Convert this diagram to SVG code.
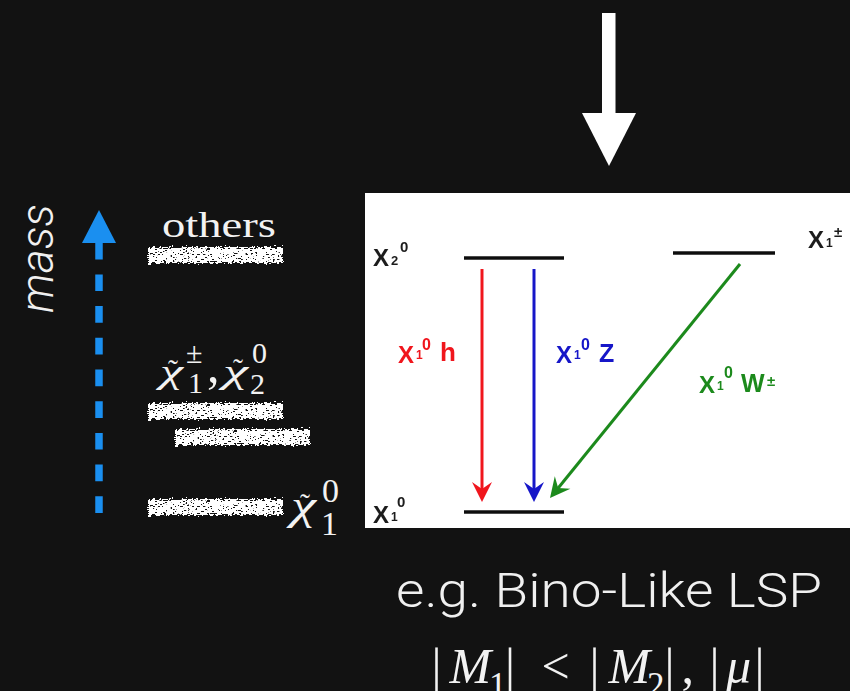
<svg xmlns="http://www.w3.org/2000/svg" width="850" height="691" viewBox="0 0 850 691">
<defs>
<style>
.serif{font-family:"Liberation Serif","Times New Roman",serif;fill:#f2f2f2}
.it{font-style:italic}
.light{font-family:Roboto,"Open Sans","Liberation Sans",sans-serif;font-weight:300;fill:#f0f0f0}
.lbl{font-family:"Liberation Sans",Arial,sans-serif;font-weight:bold}
.lvl{stroke:#111;stroke-width:3.5;fill:none}
</style>
<filter id="chalk" x="-10%" y="-60%" width="120%" height="220%">
<feTurbulence type="fractalNoise" baseFrequency="0.25 0.7" numOctaves="2" seed="3" result="n"/>
<feDisplacementMap in="SourceGraphic" in2="n" scale="8" xChannelSelector="R" yChannelSelector="G" result="d"/>
<feTurbulence type="fractalNoise" baseFrequency="0.4 1.2" numOctaves="1" seed="9" result="n2"/>
<feColorMatrix in="n2" type="matrix" values="0 0 0 0 0  0 0 0 0 0  0 0 0 0 0  -24 0 0 0 15.8" result="holes"/>
<feComposite in="d" in2="holes" operator="in"/>
</filter>
<filter id="soft" x="-5%" y="-5%" width="110%" height="110%">
<feGaussianBlur stdDeviation="0.6"/>
</filter>
<rect id="bar" width="135" height="16" fill="#ffffff"/>
</defs>
<rect x="0" y="0" width="850" height="691" fill="#121212"/>

<g id="connectors">
<g id="white-arrow" fill="#ffffff">
<rect x="602" y="13" width="13.5" height="101"/>
<polygon points="582,113 636,113 609,166"/>
</g>
<g id="mass-axis">
<line x1="99" y1="513" x2="99" y2="243" stroke="#1a8ff0" stroke-width="7.5" stroke-dasharray="16.7 15"/>
<polygon points="99,210 82,243 116,243" fill="#1a8ff0"/>
</g>
</g>

<g id="mass-label">
<text class="light it" transform="translate(53,313) rotate(-90)" font-size="46" textLength="109" lengthAdjust="spacingAndGlyphs">mass</text>
</g>

<g id="level-others">
<use href="#bar" x="148" y="247" filter="url(#chalk)"/>
<text class="serif" x="162" y="237" font-size="36" textLength="114" lengthAdjust="spacingAndGlyphs">others</text>
</g>

<g id="level-chargino-neutralino2">
<use href="#bar" x="148" y="403" filter="url(#chalk)"/>
<use href="#bar" x="175" y="429" filter="url(#chalk)"/>
<text class="serif it" x="160" y="383" font-size="34" textLength="23" lengthAdjust="spacingAndGlyphs">χ</text>
<text class="serif" x="168" y="380" font-size="30">˜</text>
<text class="serif" x="186" y="363" font-size="30">±</text>
<text class="serif" x="188" y="393" font-size="30">1</text>
<text class="serif" x="207" y="382" font-size="50">,</text>
<text class="serif it" x="223" y="383" font-size="34" textLength="25" lengthAdjust="spacingAndGlyphs">χ</text>
<text class="serif" x="233" y="379" font-size="30">˜</text>
<text class="serif" x="252" y="363" font-size="30">0</text>
<text class="serif" x="250" y="394" font-size="30">2</text>
</g>

<g id="level-lsp">
<use href="#bar" x="148" y="499" filter="url(#chalk)"/>
<text class="serif it" x="291" y="519" font-size="40" textLength="25" lengthAdjust="spacingAndGlyphs">χ</text>
<text class="serif" x="300" y="514" font-size="30">˜</text>
<text class="serif" x="322" y="502" font-size="34">0</text>
<text class="serif" x="321" y="535" font-size="34">1</text>
</g>

<g id="panel">
<rect x="365" y="193" width="485" height="335" fill="#ffffff"/>
<g filter="url(#soft)">
<g id="node-chi20">
<line class="lvl" x1="464" y1="258" x2="564" y2="258"/>
<text class="lbl" fill="#1c1c1c" x="373" y="266" font-size="24">X</text>
<text class="lbl" fill="#1c1c1c" x="391" y="265" font-size="13">2</text>
<text class="lbl" fill="#1c1c1c" x="400" y="252" font-size="15">0</text>
</g>
<g id="node-chi1pm">
<line class="lvl" x1="673" y1="253" x2="775" y2="253"/>
<text class="lbl" fill="#1c1c1c" x="808" y="248" font-size="24">X</text>
<text class="lbl" fill="#1c1c1c" x="826" y="247" font-size="12">1</text>
<text class="lbl" fill="#1c1c1c" x="834" y="237" font-size="15">±</text>
</g>
<g id="node-chi10">
<line class="lvl" x1="464" y1="512" x2="564" y2="512"/>
<text class="lbl" fill="#1c1c1c" x="373" y="523" font-size="24">X</text>
<text class="lbl" fill="#1c1c1c" x="391" y="521" font-size="12">1</text>
<text class="lbl" fill="#1c1c1c" x="397" y="507" font-size="15">0</text>
</g>
<g id="panel-connectors">
<line x1="482" y1="269" x2="482" y2="490" stroke="#f0141e" stroke-width="3"/>
<path d="M482,502 L472,482 L482,489 L492,482 Z" fill="#f0141e"/>
<line x1="534" y1="269" x2="534" y2="490" stroke="#1414c8" stroke-width="3"/>
<path d="M534,502 L524,482 L534,489 L544,482 Z" fill="#1414c8"/>
<line x1="740" y1="264" x2="557.6" y2="488.7" stroke="#1e8a1e" stroke-width="3"/>
<path d="M550,498 L554.8,476.2 L558.2,487.9 L570.4,488.8 Z" fill="#1e8a1e"/>
</g>
<g id="label-h" fill="#f0141e">
<text class="lbl" x="398" y="363" font-size="24">X</text>
<text class="lbl" x="416" y="359" font-size="12">1</text>
<text class="lbl" x="422" y="350" font-size="16">0</text>
<text class="lbl" x="440" y="361" font-size="26">h</text>
</g>
<g id="label-z" fill="#1414c8">
<text class="lbl" x="556" y="363" font-size="24">X</text>
<text class="lbl" x="574" y="359" font-size="12">1</text>
<text class="lbl" x="581" y="350" font-size="16">0</text>
<text class="lbl" x="599" y="362" font-size="25">Z</text>
</g>
<g id="label-w" fill="#1e8a1e">
<text class="lbl" x="699" y="393" font-size="24">X</text>
<text class="lbl" x="717" y="390" font-size="12">1</text>
<text class="lbl" x="724" y="378" font-size="16">0</text>
<text class="lbl" x="741" y="392" font-size="25">W</text>
<text class="lbl" x="767" y="386" font-size="15">±</text>
</g>
</g>
</g>

<g id="caption">
<text class="light" x="396" y="607" font-size="49" textLength="426" lengthAdjust="spacingAndGlyphs">e.g. Bino-Like LSP</text>
<text class="serif" y="683" font-size="50"><tspan x="431.6">|</tspan><tspan class="it" x="449.5">M</tspan><tspan x="489" y="697" font-size="35">1</tspan><tspan x="505" y="683">|</tspan><tspan x="541.5">&lt;</tspan><tspan x="589.6">|</tspan><tspan class="it" x="608.5">M</tspan><tspan x="647" y="697" font-size="35">2</tspan><tspan x="664.6" y="683">|</tspan><tspan x="681.5">,</tspan><tspan x="709.6">|</tspan><tspan class="it" x="726">μ</tspan><tspan x="754.6">|</tspan></text>
</g>
</svg>
